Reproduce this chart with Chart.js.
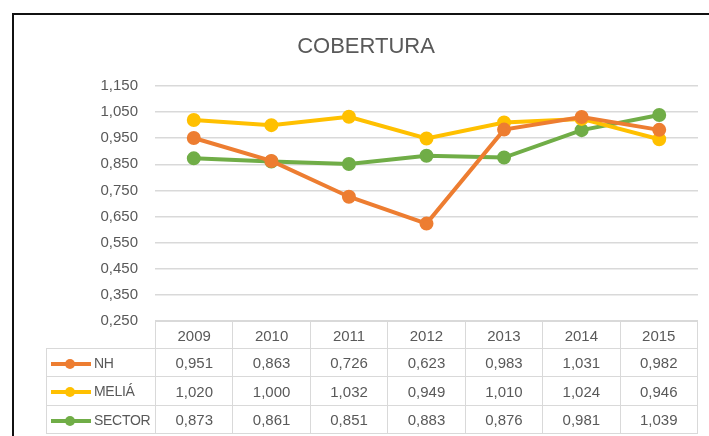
<!DOCTYPE html>
<html>
<head>
<meta charset="utf-8">
<script src="https://cdn.jsdelivr.net/npm/chart.js@4.4.1/dist/chart.umd.min.js"></script>
<style>
  html, body { margin: 0; padding: 0; background: #fff; overflow: hidden; }
  body { width: 709px; height: 436px; position: relative; font-family: "Liberation Sans", Arial, sans-serif; }
  #frame { position: absolute; left: 12px; top: 13px; width: 720px; height: 450px; border-left: 2px solid #111; border-top: 2px solid #111; box-sizing: border-box; }
  #c { position: absolute; left: 0; top: 0; }
  #tbl { position: absolute; left: 46px; top: 321px; width: 652px; border-collapse: collapse; table-layout: fixed; color: #595959; font-size: 15px; }
  #tbl td { border: 1.5px solid #d9d9d9; text-align: center; padding: 0; box-sizing: border-box; }
  #tbl td.blank { border: none; }
  #tbl td.key { text-align: left; padding-left: 4px; white-space: nowrap; font-size: 14px; letter-spacing: -0.3px; }
  .sw { display: inline-block; position: relative; width: 40px; height: 10px; vertical-align: -1px; margin-right: 3px; }
  .sw::before { content: ""; position: absolute; left: 0; right: 0; top: 3px; height: 4px; background: var(--c); }
  .sw::after { content: ""; position: absolute; left: 14px; top: 0; width: 10px; height: 10px; border-radius: 50%; background: var(--c); }
</style>
</head>
<body>
<div id="frame"></div>
<canvas id="c" width="709" height="436"></canvas>
<table id="tbl"></table>
<script>
// ---------- Datos ----------
const YEARS = ["2009", "2010", "2011", "2012", "2013", "2014", "2015"];
const NH = [0.951, 0.863, 0.726, 0.623, 0.983, 1.031, 0.982];
const MELIA = [1.020, 1.000, 1.032, 0.949, 1.010, 1.024, 0.946];
const SECTOR = [0.873, 0.861, 0.851, 0.883, 0.876, 0.981, 1.039];

const SERIES = [
  { label: "NH", data: NH, color: "#ED7D31" },
  { label: "MELIÁ", data: MELIA, color: "#FFC000" },
  { label: "SECTOR", data: SECTOR, color: "#70AD47" },
];

const fmt = (v) => v.toFixed(3).replace(".", ",");
const GREY = "#595959";

Chart.defaults.font.family = "'Liberation Sans', Arial, sans-serif";
Chart.defaults.color = GREY;

new Chart(document.getElementById("c"), {
  type: "line",
  data: {
    labels: YEARS,
    datasets: SERIES.map((s) => ({
      label: s.label,
      data: s.data,
      borderColor: s.color,
      backgroundColor: s.color,
      pointBackgroundColor: s.color,
      pointBorderColor: s.color,
      borderWidth: 4,
      pointRadius: 5,
      tension: 0,
    })),
  },
  options: {
    responsive: false,
    animation: false,
    layout: { padding: { left: 34, right: 11, top: 30, bottom: 115 } },
    plugins: {
      legend: { display: false },
      tooltip: { enabled: false },
      title: {
        display: true,
        text: "COBERTURA",
        color: GREY,
        font: { size: 22, weight: "normal" },
        padding: { top: 4, bottom: 25.6 },
      },
    },
    scales: {
      x: { type: "category", display: false, offset: true },
      y: {
        min: 0.25,
        max: 1.15,
        afterFit: (s) => { s.width = 121; },
        border: { display: false },
        grid: { color: "#d9d9d9", lineWidth: 1.5, drawTicks: false },
        ticks: { stepSize: 0.1, padding: 17, color: GREY, font: { size: 15 }, callback: (v) => fmt(v) },
      },
    },
  },
});

// ---------- Tabla de datos ----------
const tbl = document.getElementById("tbl");
let html = '<colgroup><col style="width:109px">' + YEARS.map(() => "<col>").join("") + "</colgroup>";
html += '<tr style="height:27px"><td class="blank"></td>' + YEARS.map((y) => `<td>${y}</td>`).join("") + "</tr>";
const rowH = [28, 29, 28];
SERIES.forEach((s, i) => {
  html += `<tr style="height:${rowH[i]}px"><td class="key"><span class="sw" style="--c:${s.color}"></span>${s.label}</td>` +
    s.data.map((v) => `<td>${fmt(v)}</td>`).join("") + "</tr>";
});
tbl.innerHTML = html;
</script>
</body>
</html>
